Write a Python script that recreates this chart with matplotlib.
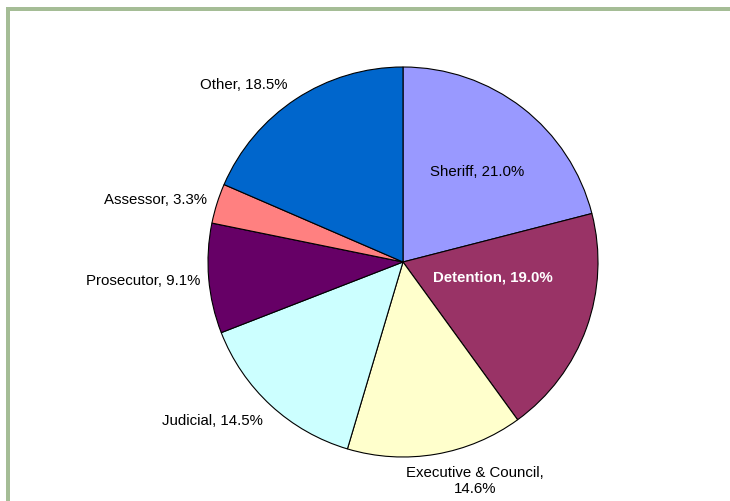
import matplotlib
matplotlib.use("Agg")
import matplotlib.pyplot as plt
from matplotlib.patches import Rectangle

categories = ["Sheriff", "Detention", "Executive & Council", "Judicial",
              "Prosecutor", "Assessor", "Other"]
values = [21.0, 19.0, 14.6, 14.5, 9.1, 3.3, 18.5]
colors = ["#9999FF", "#993366", "#FFFFCC", "#CCFFFF", "#660066", "#FF8080", "#0066CC"]
label_texts = ["Sheriff, 21.0%", "Detention, 19.0%", "Executive & Council,\n14.6%",
               "Judicial, 14.5%", "Prosecutor, 9.1%", "Assessor, 3.3%", "Other, 18.5%"]
# label centres in pixel coordinates (layout)
label_px = [(477, 172), (493, 278), (475, 481), (212, 421), (143, 281), (155.5, 200), (243.5, 85)]

W, H = 730, 501
plt.rcParams['font.family'] = ['Liberation Sans', 'DejaVu Sans']
fig = plt.figure(figsize=(W / 100, H / 100), dpi=100)

cx, cy, R = 403, 262, 195
ax = fig.add_axes([0, 0, 1, 1])
ax.pie(values, colors=colors, startangle=90, counterclock=False, radius=1,
       wedgeprops=dict(edgecolor='black', linewidth=0.8))
ax.set_aspect('auto')
ax.set_xlim(-cx / R, (W - cx) / R)
ax.set_ylim(-(H - cy) / R, cy / R)
ax.axis('off')

for i, (txt, (px, py)) in enumerate(zip(label_texts, label_px)):
    inside = categories[i] == "Detention"
    fig.text(px / W, 1 - py / H, txt, ha='center', va='center', fontsize=10.8,
             color='white' if inside else 'black',
             fontweight='bold' if inside else 'normal', linespacing=1.25)

border = "#A5BD96"
fig.patches.append(Rectangle((6 / W, 0), 4 / W, 1 - 7 / H, transform=fig.transFigure,
                             facecolor=border, edgecolor='none'))
fig.patches.append(Rectangle((6 / W, 1 - 11 / H), 1, 4 / H, transform=fig.transFigure,
                             facecolor=border, edgecolor='none'))

fig.savefig("out.png", dpi=100)
